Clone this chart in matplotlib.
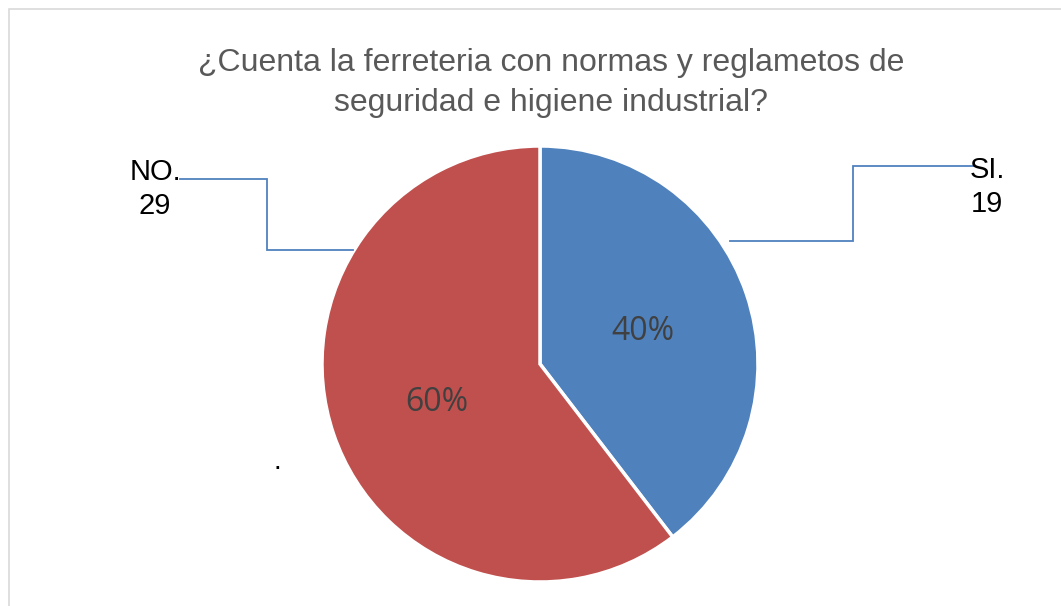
import matplotlib
matplotlib.use("Agg")
import matplotlib.pyplot as plt
from matplotlib.patches import Rectangle

# ---- data ----
categories = ["SI.", "NO."]
values = [19, 29]
colors = ["#4F81BD", "#C0504D"]
title = "¿Cuenta la ferreteria con normas y reglametos de\nseguridad e higiene industrial?"

W, H = 1061, 606
fig = plt.figure(figsize=(W / 100, H / 100), dpi=100)
ax = fig.add_axes([0, 0, 1, 1])
ax.set_xlim(0, W)
ax.set_ylim(0, H)
ax.set_aspect("equal")
ax.axis("off")

def Y(y):
    return H - y

# chart border
ax.add_patch(Rectangle((9, Y(1000)), 2000, 1000 - 9, fill=False,
                       edgecolor="#D9D9D9", linewidth=1.2))

cx, cy, r = 540, 364, 218
wedges, texts, autotexts = ax.pie(
    values, colors=colors, startangle=90, counterclock=False,
    center=(cx, Y(cy)), radius=r, autopct="%1.0f%%", pctdistance=0.5,
    wedgeprops=dict(edgecolor="white", linewidth=2.5),
    textprops=dict(fontsize=23, color="#404040", family="Open Sans"),
)
for t in autotexts:
    x, y = t.get_position()
    t.set_position((x, y - 3))
ax.set_xlim(0, W)
ax.set_ylim(0, H)

ax.text(551, Y(83), title, ha="center", va="center", fontsize=23,
        color="#595959", family="Liberation Sans", linespacing=1.4)

lc = "#4F81BD"
# leader lines
ax.plot([730, 853, 853, 975], [Y(240.5), Y(240.5), Y(165.5), Y(165.5)],
        color=lc, linewidth=1.3, solid_joinstyle="miter")
ax.plot([353, 267, 267, 180], [Y(249.5), Y(249.5), Y(178.5), Y(178.5)],
        color=lc, linewidth=1.3, solid_joinstyle="miter")

# data labels
ax.text(987, Y(187), f"{categories[0]}\n{values[0]}", ha="center", va="center",
        fontsize=21, color="black", family="Liberation Sans", linespacing=1.25)
ax.text(155, Y(189), f"{categories[1]}\n{values[1]}", ha="center", va="center",
        fontsize=21, color="black", family="Liberation Sans", linespacing=1.25)

ax.text(277, Y(469), ".", ha="center", va="baseline", fontsize=20,
        color="black", family="Liberation Sans")

fig.savefig("out.png", dpi=100, facecolor="white")
